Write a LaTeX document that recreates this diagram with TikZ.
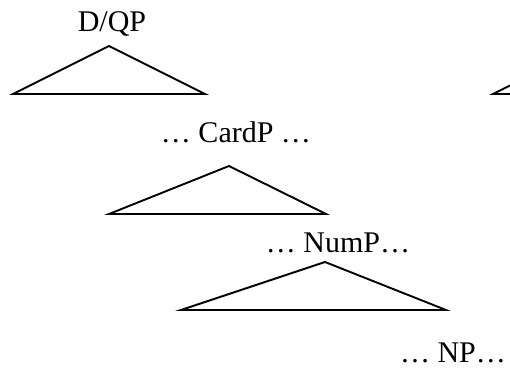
\documentclass[tikz,border=0pt]{standalone}
\usepackage{fontspec}
\setmainfont{Liberation Serif}

\begin{document}
\begin{tikzpicture}[x=0.5pt,y=-0.5pt,
  every node/.style = {
     font=\fontsize{15}{18}\selectfont,
     inner sep=0pt, anchor=base},
  roof/.style = {draw, line width=0.95pt}]
  \clip (0,0) rectangle (510,369);
  \node (dqp)   at (112,32)  {D/QP};
  \node (cardp) at (236,143) {\dots\ CardP \dots};
  \node (nump)  at (338,253) {\dots\ NumP\dots};
  \node (np)    at (453,363) {\dots\ NP\dots};
  % roofs
  \draw[roof] (13,94) -- (109,46) -- (205,94) -- cycle;
  \draw[roof] (493,94) -- (589,46) -- (685,94) -- cycle;
  \draw[roof] (109,214) -- (229,166) -- (326,214) -- cycle;
  \draw[roof] (181,310) -- (325,262) -- (446,310) -- cycle;
\end{tikzpicture}
\end{document}
